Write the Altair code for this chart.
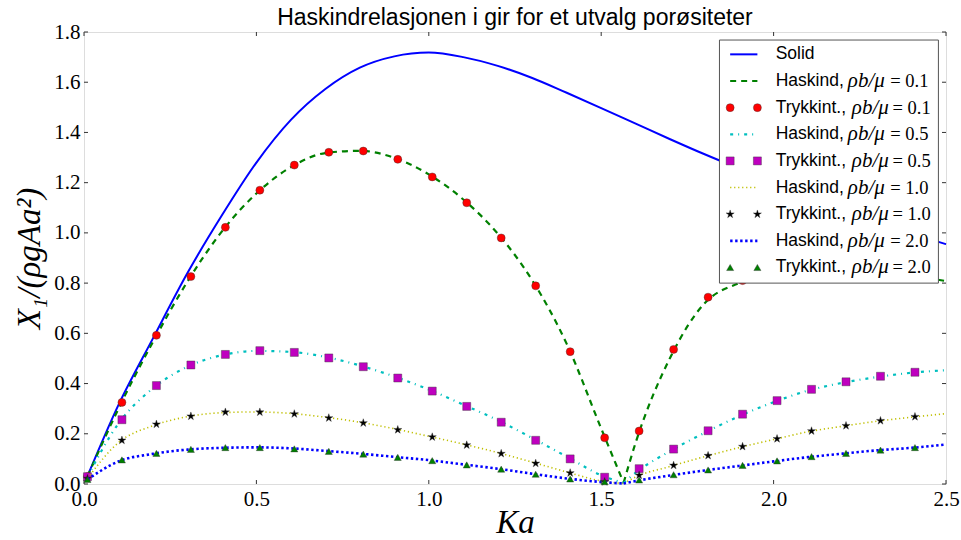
import altair as alt
import pandas as pd

# ---------------- curve data ----------------
ka_solid = [0.01, 0.1, 0.2, 0.3, 0.4, 0.5, 0.6, 0.7, 0.8, 0.9, 1.0, 1.1, 1.2,
            1.3, 1.4, 1.5, 1.6, 1.7, 1.8, 1.9, 2.0, 2.1, 2.2, 2.3, 2.4, 2.5]
solid = [0.031, 0.315, 0.58, 0.84, 1.07, 1.28, 1.45, 1.573, 1.658, 1.703,
         1.718, 1.70, 1.665, 1.617, 1.558, 1.497, 1.435, 1.373, 1.313, 1.256,
         1.200, 1.146, 1.094, 1.045, 0.998, 0.955]

ka_curve = [0.01, 0.1, 0.2, 0.3, 0.4, 0.5, 0.6, 0.7, 0.8, 0.9, 1.0, 1.1, 1.2,
            1.3, 1.4, 1.5, 1.565, 1.6, 1.7, 1.8, 1.9, 2.0, 2.1, 2.2, 2.3, 2.4, 2.5]
haskind_01 = [0.03, 0.30, 0.566, 0.806, 1.006, 1.157, 1.262, 1.318, 1.327, 1.299,
              1.233, 1.133, 0.997, 0.811, 0.558, 0.221, 0.005, 0.165, 0.503, 0.72,
              0.80, 0.838, 0.855, 0.857, 0.847, 0.83, 0.808]
haskind_05 = [0.029, 0.241, 0.381, 0.467, 0.513, 0.530, 0.526, 0.506, 0.472, 0.428,
              0.376, 0.316, 0.254, 0.183, 0.109, 0.035, 0.004, 0.045, 0.131, 0.204,
              0.270, 0.326, 0.372, 0.403, 0.426, 0.443, 0.453]
haskind_10 = [0.022, 0.165, 0.232, 0.268, 0.284, 0.287, 0.281, 0.266, 0.246, 0.220,
              0.190, 0.159, 0.125, 0.087, 0.048, 0.012, 0.002, 0.028, 0.070, 0.109,
              0.145, 0.177, 0.208, 0.230, 0.250, 0.266, 0.280]
haskind_20 = [0.018, 0.090, 0.120, 0.137, 0.144, 0.146, 0.142, 0.132, 0.121, 0.108,
              0.095, 0.078, 0.061, 0.041, 0.022, 0.008, 0.002, 0.012, 0.034, 0.054,
              0.072, 0.090, 0.107, 0.121, 0.134, 0.144, 0.157]

# pressure-integration points
ka_pts = [0.01, 0.11, 0.21, 0.31, 0.41, 0.51, 0.61, 0.71, 0.81, 0.91, 1.01, 1.11,
          1.21, 1.31, 1.41, 1.51, 1.61, 1.71, 1.81, 1.91, 2.01, 2.11, 2.21, 2.31, 2.41]
trykk_01 = [0.03, 0.325, 0.592, 0.826, 1.022, 1.170, 1.270, 1.321, 1.326, 1.293,
            1.223, 1.120, 0.980, 0.789, 0.527, 0.184, 0.211, 0.536, 0.744, 0.81,
            0.842, 0.856, 0.857, 0.846, 0.828]
trykk_05 = [0.029, 0.256, 0.392, 0.474, 0.516, 0.531, 0.524, 0.502, 0.467, 0.422,
            0.370, 0.309, 0.246, 0.174, 0.100, 0.027, 0.061, 0.139, 0.212, 0.278,
            0.332, 0.377, 0.407, 0.429, 0.445]
trykk_10 = [0.022, 0.174, 0.238, 0.270, 0.286, 0.286, 0.279, 0.263, 0.243, 0.216,
            0.187, 0.155, 0.121, 0.082, 0.044, 0.009, 0.035, 0.074, 0.113, 0.149,
            0.180, 0.211, 0.232, 0.252, 0.268]
trykk_20 = [0.018, 0.096, 0.122, 0.138, 0.145, 0.145, 0.140, 0.130, 0.119, 0.106,
            0.093, 0.076, 0.059, 0.039, 0.020, 0.009, 0.016, 0.037, 0.056, 0.074,
            0.092, 0.109, 0.122, 0.135, 0.145]

x_ticks = [0.0, 0.5, 1.0, 1.5, 2.0, 2.5]
y_ticks = [0.0, 0.2, 0.4, 0.6, 0.8, 1.0, 1.2, 1.4, 1.6, 1.8]

ratios = ["0.1", "0.5", "1.0", "2.0"]
TITLE = "Haskindrelasjonen i gir for et utvalg porøsiteter"

# ---------------- layout / styles ----------------
W, H = 862, 452
SERIF = "Liberation Serif"
SANS = "Liberation Sans"
EDGE = "#333333"
STAR = ("M0,-1L0.2245,-0.309L0.9511,-0.309L0.3633,0.118L0.5878,0.809L0,0.382"
        "L-0.5878,0.809L-0.3633,0.118L-0.9511,-0.309L-0.2245,-0.309Z")

line_styles = [
    dict(color="#008000", strokeDash=[6, 5], strokeWidth=2.2),
    dict(color="#00bfbf", strokeDash=[3, 5, 1, 5], strokeWidth=2.2),
    dict(color="#bfbf00", strokeDash=[1.2, 2.8], strokeWidth=1.6),
    dict(color="#0000ff", strokeDash=[2.4, 2.6], strokeWidth=2.6),
]
marker_styles = [
    dict(shape="circle", fill="#ff0000", size=64),
    dict(shape="square", fill="#bf00bf", size=64),
    dict(shape=STAR, fill="#000000", size=72),
    dict(shape="triangle-up", fill="#008000", size=50),
]

xs = alt.Scale(domain=[0, 2.5], nice=False, zero=False)
ys = alt.Scale(domain=[0, 1.8], nice=False, zero=False)

x_axis = alt.Axis(values=x_ticks, format=".1f", title="Ka", grid=False, ticks=False,
                  domain=False, labelFont=SERIF, labelFontSize=21,
                  labelColor="black", labelPadding=4, labelFlush=False,
                  labelOverlap=False,
                  titleFont=SERIF, titleFontStyle="italic", titleFontWeight="normal",
                  titleFontSize=33, titleColor="black", titlePadding=-3)
y_axis = alt.Axis(values=y_ticks, format=".1f", title="X\u2081/(\u03c1gAa\u00b2)",
                  grid=False, ticks=False, domain=False, labelFont=SERIF,
                  labelFontSize=21, labelColor="black", labelPadding=4,
                  labelFlush=False, labelOverlap=False,
                  titleFont=SERIF, titleFontStyle="italic",
                  titleFontWeight="normal", titleFontSize=33, titleColor="black",
                  titlePadding=7)


def curve_frame(ka, vals):
    """Split a curve at its minimum so both flanks keep a sharp notch."""
    rows = []
    for k, v in zip(ka, vals):
        if k <= 1.565:
            rows.append({"ka": k, "val": v, "branch": 0})
        if k >= 1.565:
            rows.append({"ka": k, "val": v, "branch": 1})
    return pd.DataFrame(rows)


def xenc(field="ka"):
    return alt.X(f"{field}:Q", scale=xs, axis=x_axis)


def yenc(field="val"):
    return alt.Y(f"{field}:Q", scale=ys, axis=y_axis)


layers = []

# solid body curve
layers.append(
    alt.Chart(pd.DataFrame({"ka": ka_solid, "val": solid}))
    .mark_line(color="#0000ff", strokeWidth=2, interpolate="monotone")
    .encode(x=xenc(), y=yenc())
)

curves = [haskind_01, haskind_05, haskind_10, haskind_20]
points = [trykk_01, trykk_05, trykk_10, trykk_20]
for vals, pts, ls, ms in zip(curves, points, line_styles, marker_styles):
    layers.append(
        alt.Chart(curve_frame(ka_curve, vals))
        .mark_line(interpolate="monotone", **ls)
        .encode(x=xenc(), y=yenc(), detail="branch:N")
    )
    layers.append(
        alt.Chart(pd.DataFrame({"ka": ka_pts, "val": pts}))
        .mark_point(filled=True, opacity=1, stroke=EDGE, strokeWidth=0.5,
                    strokeOpacity=0.8, **ms)
        .encode(x=xenc(), y=yenc())
    )

# inward ticks on all four spines
tx = pd.DataFrame({"ka": x_ticks})
ty = pd.DataFrame({"val": y_ticks})
tick_kw = dict(color="#333333", strokeWidth=1)
layers += [
    alt.Chart(tx).mark_rule(**tick_kw).encode(x=xenc(), y=alt.value(H), y2=alt.value(H - 4)),
    alt.Chart(tx).mark_rule(**tick_kw).encode(x=xenc(), y=alt.value(0), y2=alt.value(4)),
    alt.Chart(ty).mark_rule(**tick_kw).encode(y=yenc(), x=alt.value(0), x2=alt.value(4)),
    alt.Chart(ty).mark_rule(**tick_kw).encode(y=yenc(), x=alt.value(W), x2=alt.value(W - 4)),
]

# ---------------- legend (placed in data space, upper right) ----------------
leg_left, leg_right, leg_bottom, leg_top = 1.843, 2.478, 0.80, 1.768
row0, row_step = 1.711, 0.1061
samp_a, samp_b = 1.874, 1.953
text_x = 2.006

layers.append(
    alt.Chart(pd.DataFrame({"ka": [leg_left], "b": [leg_right],
                            "val": [leg_bottom], "hi": [leg_top]}))
    .mark_rect(fill="white", stroke="#555555", strokeWidth=1)
    .encode(x=xenc(), x2="b:Q", y=yenc(), y2="hi:Q")
)

labels = ["Solid"]
for r in ratios:
    labels += ["Haskind,", "Trykkint.,"]
leg_rows = pd.DataFrame({
    "row": list(range(9)),
    "label": labels,
    "val": [row0 - i * row_step for i in range(9)],
})

# solid sample
layers.append(
    alt.Chart(leg_rows[leg_rows.row == 0].assign(ka=samp_a, b=samp_b))
    .mark_rule(color="#0000ff", strokeWidth=2)
    .encode(x=xenc(), x2="b:Q", y=yenc())
)
for j, (ls, ms) in enumerate(zip(line_styles, marker_styles)):
    hrow = leg_rows[leg_rows.row == 1 + 2 * j].assign(ka=samp_a, b=samp_b)
    layers.append(
        alt.Chart(hrow).mark_rule(**ls).encode(x=xenc(), x2="b:Q", y=yenc())
    )
    prow = leg_rows[leg_rows.row == 2 + 2 * j]
    pdf = pd.DataFrame({"ka": [samp_a, samp_b], "val": [prow.val.iloc[0]] * 2})
    layers.append(
        alt.Chart(pdf)
        .mark_point(filled=True, opacity=1, stroke=EDGE, strokeWidth=0.5,
                    strokeOpacity=0.8, **ms)
        .encode(x=xenc(), y=yenc())
    )

layers.append(
    alt.Chart(leg_rows.assign(ka=text_x))
    .mark_text(font=SANS, fontSize=17.5, align="left", baseline="middle", color="black")
    .encode(x=xenc(), y=yenc(), text="label:N")
)

mrows = leg_rows[leg_rows.row > 0].copy()
mrows["ratio"] = [r for r in ratios for _ in range(2)]
mrows["mx"] = [2.2154 if i % 2 == 1 else 2.2270 for i in mrows.row]
mrows["ex"] = [2.3383 if i % 2 == 1 else 2.3450 for i in mrows.row]
mrows["mtext"] = "\u03c1b/\u03bc"
mrows["etext"] = "= " + mrows["ratio"]
layers.append(
    alt.Chart(mrows.assign(ka=mrows["mx"]))
    .mark_text(font=SERIF, fontSize=21, fontStyle="italic", align="left",
               baseline="middle", color="black")
    .encode(x=xenc(), y=yenc(), text="mtext:N")
)
layers.append(
    alt.Chart(mrows.assign(ka=mrows["ex"]))
    .mark_text(font=SERIF, fontSize=18.5, align="left", baseline="middle", color="black")
    .encode(x=xenc(), y=yenc(), text="etext:N")
)

chart = (
    alt.layer(*layers)
    .properties(
        width=W,
        height=H,
        title=alt.TitleParams(TITLE, font=SANS, fontSize=23, fontWeight="normal",
                              anchor="middle", frame="group", offset=1, dy=10,
                              color="black"),
        autosize=alt.AutoSizeParams(type="none"),
        padding={"left": 84, "top": 32, "right": 15, "bottom": 56},
    )
    .configure_view(stroke="#333333", strokeWidth=1)
    .configure(background="white")
)

chart.save("out.html", embed_options={"renderer": "svg", "actions": False})
